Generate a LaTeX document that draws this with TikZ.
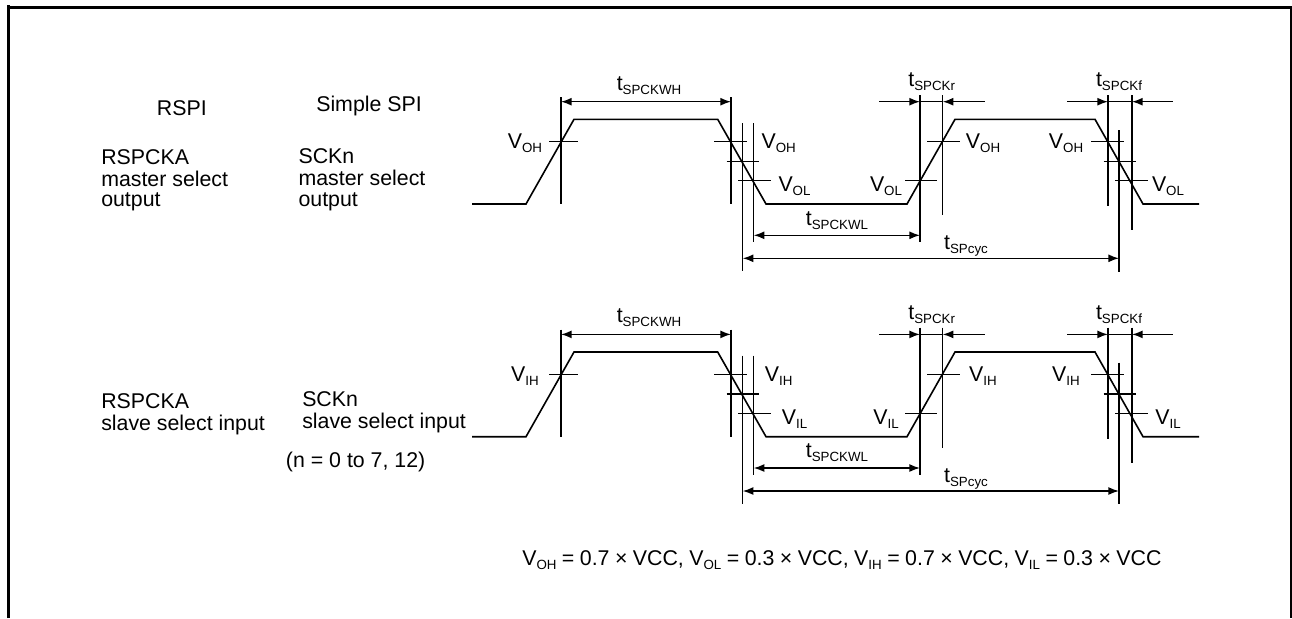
\documentclass[tikz,border=0pt]{standalone}
\usepackage{fontspec}
\setmainfont{Liberation Sans}
\usetikzlibrary{arrows.meta}

\newcommand{\subtxt}[2]{{\fontsize{16pt}{16pt}\selectfont #1\raisebox{-0.2em}{\fontsize{10pt}{10pt}\selectfont #2}}}

\begin{document}
\begin{tikzpicture}[
    x=0.75pt,
    y=-0.75pt,
    frameline/.style={line width=2.25pt},
    wave/.style={line width=1.2pt},
    guide/.style={line width=1.1pt},
    dim/.style={line width=1.1pt, {Latex[length=8pt,width=6pt]}-{Latex[length=8pt,width=6pt]}},
    dimin/.style={line width=1.1pt, -{Latex[length=8pt,width=6pt]}},
    txt/.style={anchor=base west, inner sep=0pt, font=\fontsize{16pt}{16pt}\selectfont},
    lab/.style={anchor=base, inner sep=0pt},
]
    \useasboundingbox (0,0) rectangle (1292,618);

    % frame
    \draw[frameline] (8.5,618) -- (8.5,5);
    \draw[frameline] (8.5,7.5) -- (1291,7.5) -- (1291,618);

    % left column
    \node[txt] (rspi) at (156.7,115.7) {RSPI};
    \node[txt] (simple) at (316,111.7) {Simple SPI};
    \node[txt] (m1) at (101,164.3) {RSPCKA};
    \node[txt] (m2) at (101,186.7) {master select};
    \node[txt] (m3) at (101,206.7) {output};
    \node[txt] (n1) at (298.3,163.3) {SCKn};
    \node[txt] (n2) at (298.3,185.7) {master select};
    \node[txt] (n3) at (298.3,206) {output};
    \node[txt] (s1) at (101,408.3) {RSPCKA};
    \node[txt] (s2) at (101,430) {slave select input};
    \node[txt] (k1) at (302,406.7) {SCKn};
    \node[txt] (k2) at (302,428.3) {slave select input};
    \node[txt] (range) at (285.7,467.7) {(n = 0 to 7, 12)};

    \foreach \row/\dy/\hi/\lo in {a/0/OH/OL, b/232.7/IH/IL} {
        \begin{scope}[yshift=-0.75pt*\dy]
            % signal
            \draw[wave] (472,204) -- (526,204) -- (574,119.3) -- (717.7,119.3) -- (766,204)
                -- (907,204) -- (955,119.3) -- (1095,119.3) -- (1143,204) -- (1199,204);

            % ends of the extension lines
            \foreach \name/\xx/\ytop/\ybot in {
                p/561/97/204, q/731/97/204, r/742.7/123/271, s/753.7/123/242,
                u/920/95/242, v/942.7/95/215, w/1108/95/206, x/1119/130/271.7, y/1132/95/230} {
                \coordinate (\row\name t) at (\xx,\ytop);
                \coordinate (\row\name b) at (\xx,\ybot);
                \draw[guide] (\row\name t) -- (\row\name b);
            }

            % level ticks
            \foreach \xa/\xb/\yy in {
                549/577.7/141.7, 714/747/141.7, 726.7/759.3/161.3, 738/771/180.7,
                905/937.3/180.7, 927.3/960/141.7, 1091.3/1123.7/141.7,
                1103.7/1136/161.3, 1115.3/1147.7/180.7} {
                \draw[guide] (\xa,\yy) -- (\xb,\yy);
            }

            % dimensions
            \coordinate (\row wh1) at (561,101.7);
            \coordinate (\row wh2) at (731,101.7);
            \coordinate (\row wl1) at (753.7,235.3);
            \coordinate (\row wl2) at (920,235.3);
            \coordinate (\row cy1) at (742.7,258.3);
            \coordinate (\row cy2) at (1119,258.3);
            \draw[dim] (\row wh1) -- (\row wh2);
            \draw[dim] (\row wl1) -- (\row wl2);
            \draw[dim] (\row cy1) -- (\row cy2);

            \coordinate (\row ra) at (879,101.7);
            \coordinate (\row rb) at (920,101.7);
            \coordinate (\row rc) at (942.7,101.7);
            \coordinate (\row rd) at (984.7,101.7);
            \coordinate (\row fa) at (1067,101.7);
            \coordinate (\row fb) at (1108,101.7);
            \coordinate (\row fc) at (1132,101.7);
            \coordinate (\row fd) at (1172.7,101.7);
            \draw[dimin] (\row ra) -- (\row rb);
            \draw[dimin] (\row rd) -- (\row rc);
            \draw[dimin] (\row fa) -- (\row fb);
            \draw[dimin] (\row fd) -- (\row fc);
            \draw[guide] (\row rb) -- (\row rc);
            \draw[guide] (\row fb) -- (\row fc);

            % timing labels
            \node[lab] (\row twh) at (649,90) {\subtxt{t}{SPCKWH}};
            \node[lab] (\row twl) at (837,225) {\subtxt{t}{SPCKWL}};
            \node[lab] (\row tcy) at (966,249.3) {\subtxt{t}{SPcyc}};
            \node[lab] (\row tr) at (931.7,86.3) {\subtxt{t}{SPCKr}};
            \node[lab] (\row tf) at (1119,86.3) {\subtxt{t}{SPCKf}};

            % level labels
            \node[lab] (\row va) at (525,148.3) {\subtxt{V}{\hi}};
            \node[lab] (\row vb) at (778.7,148.3) {\subtxt{V}{\hi}};
            \node[lab] (\row vc) at (794.5,191.7) {\subtxt{V}{\lo}};
            \node[lab] (\row vd) at (886,191.7) {\subtxt{V}{\lo}};
            \node[lab] (\row ve) at (983,148.3) {\subtxt{V}{\hi}};
            \node[lab] (\row vf) at (1066,148.3) {\subtxt{V}{\hi}};
            \node[lab] (\row vg) at (1168,191.7) {\subtxt{V}{\lo}};
        \end{scope}
    }

    \node[txt] (levels) at (522,565) {\spaceskip=4.1pt\subtxt{V}{OH} = 0.7 × VCC, \subtxt{V}{OL} = 0.3 × VCC, \subtxt{V}{IH} = 0.7 × VCC, \subtxt{V}{IL} = 0.3 × VCC};
\end{tikzpicture}
\end{document}
